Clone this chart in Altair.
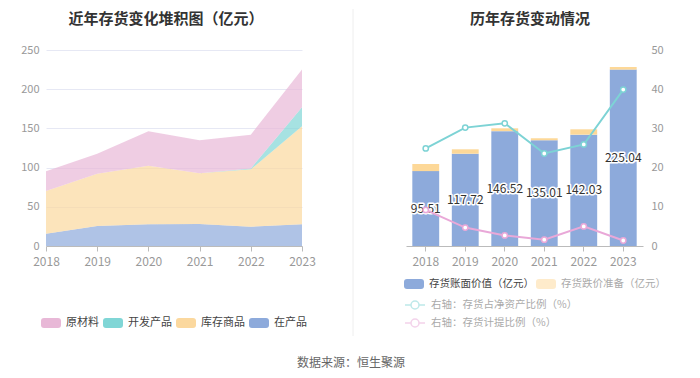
import altair as alt
import pandas as pd

# ---------------- data ----------------
years = ["2018", "2019", "2020", "2021", "2022", "2023"]

# left: stacked composition (亿元)
wip = [15.7, 25.5, 27.6, 28.0, 24.7, 27.6]          # 在产品
goods = [54.5, 66.8, 74.9, 64.7, 73.1, 125.0]       # 库存商品
dev = [0.0, 0.0, 0.0, 0.0, 1.2, 24.3]               # 开发产品
raw = [25.3, 25.4, 44.0, 42.3, 43.0, 48.1]          # 原材料

cats = ["原材料", "开发产品", "库存商品", "在产品"]
cat_colors = ["#E8B8D7", "#80D6D6", "#FBD89E", "#8DAADB"]

# right: book value, provision, ratios
book = [95.51, 117.72, 146.52, 135.01, 142.03, 225.04]
provision = [9.1, 5.6, 3.6, 2.3, 6.8, 3.3]
ratio_net = [24.9, 30.2, 31.3, 23.6, 25.9, 39.9]
ratio_prov = [9.2, 4.7, 2.7, 1.6, 5.0, 1.4]

bar_series = ["存货账面价值（亿元）", "存货跌价准备（亿元）"]
line_series = ["右轴：存货占净资产比例（%）", "右轴：存货计提比例（%）"]

title_left = "近年存货变化堆积图（亿元）"
title_right = "历年存货变动情况"
source_text = "数据来源：恒生聚源"

FONT = "Noto Sans CJK SC"
LABEL_GRAY = "#999999"
GRID = "#E6E8F4"

# ---------------- left panel ----------------
rows = []
for i, y in enumerate(years):
    for c, vals, o in [("在产品", wip, 0), ("库存商品", goods, 1),
                       ("开发产品", dev, 2), ("原材料", raw, 3)]:
        rows.append({"year": y, "cat": c, "value": vals[i], "order": o})
left_df = pd.DataFrame(rows)

rect_path = ("M-0.7,-0.5H0.7Q1,-0.5,1,-0.2V0.2Q1,0.5,0.7,0.5H-0.7"
             "Q-1,0.5,-1,0.2V-0.2Q-1,-0.5,-0.7,-0.5Z")
line_sym = ("M-1,0H-0.4M0.4,0H1M-0.4,0A0.4,0.4,0,1,1,0.4,0"
            "A0.4,0.4,0,1,1,-0.4,0")

y_left_axis = alt.Axis(values=[0, 50, 100, 150, 200, 250], title=None,
                       domain=False, ticks=False, tickSize=0, labelPadding=7,
                       labelColor=LABEL_GRAY, labelFontSize=11, gridColor=GRID)

area = alt.Chart(left_df).mark_area(opacity=0.7).encode(
    x=alt.X("year:O", scale=alt.Scale(type="point", padding=0),
            axis=alt.Axis(title=None, labelAngle=0, domainColor="#BBBBBB",
                          tickColor="#BBBBBB", tickSize=5, labelColor=LABEL_GRAY,
                          labelFontSize=12, labelPadding=5, grid=False)),
    y=alt.Y("value:Q", stack="zero", scale=alt.Scale(domain=[0, 250]),
            axis=y_left_axis),
    color=alt.Color("cat:N", scale=alt.Scale(domain=cats, range=cat_colors),
                    legend=alt.Legend(title=None, orient="none", legendX=-5,
                                      legendY=263, direction="horizontal",
                                      symbolType=rect_path, symbolSize=400,
                                      symbolStrokeWidth=0, symbolOpacity=1,
                                      labelFontSize=11, labelColor="#444444",
                                      labelOffset=5, columnPadding=4)),
    order=alt.Order("order:Q"),
)

ltitle = alt.Chart(pd.DataFrame({"t": [title_left]})).mark_text(
    fontSize=15, fontWeight="bold", color="#333333", align="center",
    baseline="middle").encode(text="t:N", x=alt.value(120), y=alt.value(-31))

left = alt.layer(area, ltitle).properties(width=256, height=196)

# ---------------- right panel ----------------
right_df = pd.DataFrame({"year": years, "book": book, "prov": provision})
line_rows = []
for i, y in enumerate(years):
    line_rows.append({"year": y, "s": line_series[0], "v": ratio_net[i]})
    line_rows.append({"year": y, "s": line_series[1], "v": ratio_prov[i]})
line_df = pd.DataFrame(line_rows)

xr = alt.X("year:O", scale=alt.Scale(paddingInner=0.32, paddingOuter=0.16),
           axis=alt.Axis(title=None, labelAngle=0, domainColor="#BBBBBB",
                         tickColor="#BBBBBB", tickSize=5, labelColor=LABEL_GRAY,
                         labelFontSize=12, labelPadding=5, grid=False))
ydom = alt.Scale(domain=[0, 250])

bars_book = alt.Chart(right_df).transform_calculate(
    series="'" + bar_series[0] + "'").mark_bar().encode(
    x=xr,
    y=alt.Y("book:Q", scale=ydom, axis=y_left_axis),
    color=alt.Color("series:N", scale=alt.Scale(domain=[bar_series[0]], range=["#8DAADB"]),
                    legend=alt.Legend(title=None, orient="none", legendX=-2, legendY=224,
                                      symbolType=rect_path, symbolSize=400,
                                      symbolStrokeWidth=0, labelFontSize=10.5,
                                      labelColor="#444444", labelOffset=5)),
)
bars_prov = alt.Chart(right_df).transform_calculate(
    series="'" + bar_series[1] + "'", top="datum.book + datum.prov").mark_bar().encode(
    x=xr,
    y=alt.Y("book:Q", scale=ydom, axis=None),
    y2="top:Q",
    color=alt.Color("series:N", scale=alt.Scale(domain=[bar_series[1]], range=["#FDD898"]),
                    legend=alt.Legend(title=None, orient="none", legendX=130, legendY=224,
                                      symbolType=rect_path, symbolSize=400,
                                      symbolStrokeWidth=0, symbolOpacity=0.5,
                                      labelFontSize=10.5, labelColor="#AAAAAA",
                                      labelOffset=5)),
)
lab_base = alt.Chart(right_df).transform_calculate(mid="datum.book / 2").encode(
    x=xr, y=alt.Y("mid:Q", scale=ydom, axis=None),
    text=alt.Text("book:Q", format=".2f"))
lab_halo = lab_base.mark_text(fontSize=12, color="#333333", stroke="white",
                              strokeWidth=3, strokeJoin="round")
lab_txt = lab_base.mark_text(fontSize=12, color="#333333")

bars_layer = alt.layer(bars_book, bars_prov, lab_halo, lab_txt).resolve_scale(color="independent")

lines = alt.Chart(line_df).mark_line(
    strokeWidth=2,
    point=alt.OverlayMarkDef(filled=False, fill="white", size=28, strokeWidth=1.5)).encode(
    x=xr,
    y=alt.Y("v:Q", scale=alt.Scale(domain=[0, 50]),
            axis=alt.Axis(values=[0, 10, 20, 30, 40, 50], orient="right", title=None,
                          domain=False, ticks=False, tickSize=0, grid=False,
                          labelPadding=8, labelColor=LABEL_GRAY, labelFontSize=11)),
    color=alt.Color("s:N", scale=alt.Scale(domain=line_series, range=["#7DD3D5", "#E9A8D8"]),
                    legend=alt.Legend(title=None, orient="none", legendX=-2, legendY=244,
                                      direction="vertical", symbolType=line_sym,
                                      symbolSize=400, symbolStrokeWidth=1.5,
                                      symbolFillColor="white", symbolOpacity=0.5,
                                      labelFontSize=10.5, labelColor="#AAAAAA",
                                      labelOffset=5, rowPadding=0)),
)

rtitle = alt.Chart(pd.DataFrame({"t": [title_right]})).mark_text(
    fontSize=15, fontWeight="bold", color="#333333", align="center",
    baseline="middle").encode(text="t:N", x=alt.value(124), y=alt.value(-31))
divider = alt.Chart(pd.DataFrame({"a": [0]})).mark_rule(color="#EEEEEE", strokeWidth=1).encode(
    x=alt.value(-53), y=alt.value(-41), y2=alt.value(286))
source = alt.Chart(pd.DataFrame({"t": [source_text]})).mark_text(
    fontSize=12, color="#666666", align="center", baseline="middle").encode(
    text="t:N", x=alt.value(-55), y=alt.value(313))

right = alt.layer(bars_layer, lines, rtitle, divider, source).resolve_scale(
    y="independent", color="independent").properties(width=237, height=196)

chart = alt.hconcat(left, right, spacing=104, bounds="flush").properties(
    padding={"left": 12, "top": 0, "right": 0, "bottom": 0}
).configure(font=FONT).configure_view(stroke=None)

chart.save("out.html", embed_options={"renderer": "svg", "actions": False})
